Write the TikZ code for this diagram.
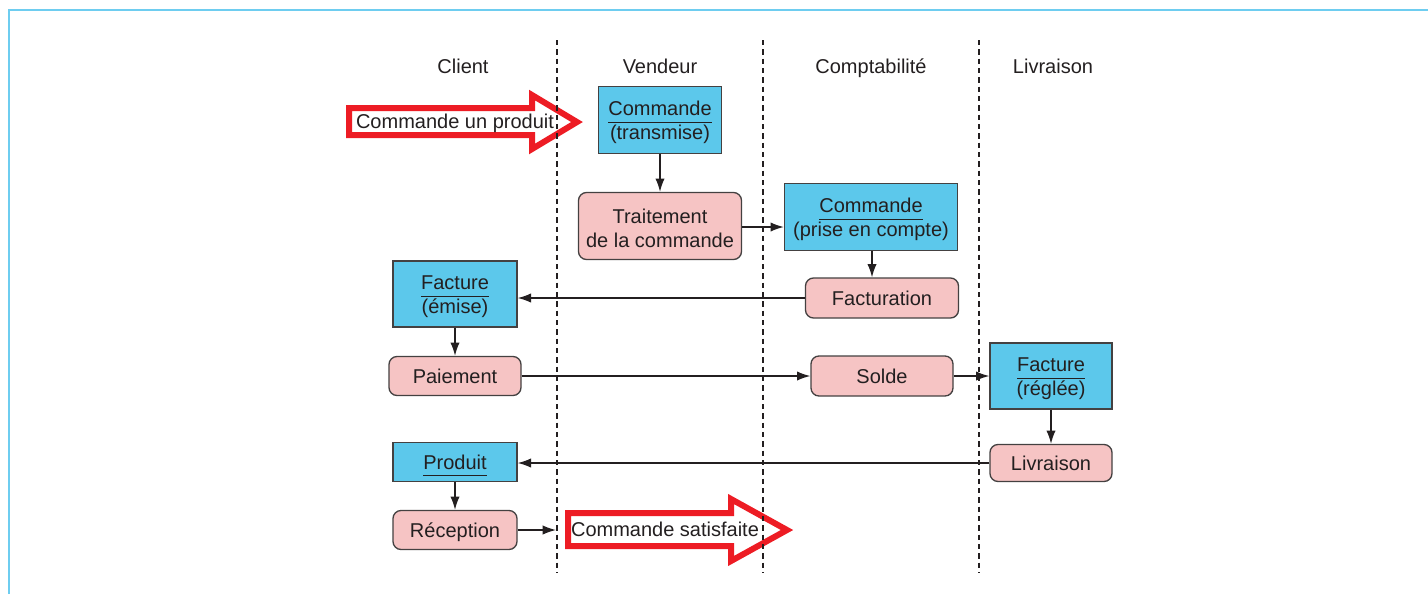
\documentclass[tikz,border=0pt]{standalone}
\usepackage{fontspec}
\setmainfont{Liberation Sans}
\usetikzlibrary{arrows.meta}
\definecolor{boxblue}{RGB}{92,200,235}
\definecolor{boxpink}{RGB}{246,196,196}
\definecolor{frameblue}{RGB}{110,205,240}
\definecolor{arrowred}{RGB}{237,28,36}
\definecolor{ink}{RGB}{35,31,32}
\newcommand\ttl[1]{\underline{#1\vphantom{(}}}
\newcommand\tp{\rule{0pt}{15pt}}
\begin{document}
\begin{tikzpicture}[x=0.75pt,y=-0.75pt,
  every node/.style={font=\fontsize{15}{18}\selectfont, text=ink},
  doc/.style={draw=ink!85, line width=1pt, fill=boxblue, align=center, inner sep=0pt},
  act/.style={draw=ink!85, line width=1pt, fill=boxpink, rounded corners=6pt, align=center, inner sep=0pt},
  one/.style={text height=10.7pt, text depth=0pt},
  two/.style={font=\fontsize{15}{18}\selectfont},
  flow/.style={draw=ink, line width=1pt, -{Latex[length=10pt,width=7pt]}},
  lane/.style={draw=ink, line width=0.9pt, dash pattern=on 4pt off 3pt},
  bigarrow/.style={draw=arrowred, line width=4.5pt, fill=white, line join=miter},
  plain/.style={inner sep=0pt, anchor=base}
]
\useasboundingbox (0,0) rectangle (1428,594);
\draw[frameblue, line width=1.5pt] (9,594) -- (9,10) -- (1428,10);

% lane labels
\node[plain] (lclient) at (463,73) {Client};
\node[plain] (lvendeur) at (660,73) {Vendeur};
\node[plain] (lcompta) at (871,73) {Comptabilité};
\node[plain] (llivr) at (1053,73) {Livraison};

% big red arrows
\draw[bigarrow] (349,108) -- (532,108) -- (532,95) -- (577,122) -- (532,149) -- (532,135) -- (349,135) -- cycle;
\node[plain] (cmdprod) at (455,128) {Commande un produit};
\draw[bigarrow] (568,513) -- (731,513) -- (731,499) -- (787,530) -- (731,561) -- (731,546) -- (568,546) -- cycle;
\node[plain] (cmdsat) at (665,536) {Commande satisfaite};

% boxes
\node[doc, two, minimum width=92.25pt, minimum height=50.25pt] (transmise) at (660,120) {\tp\ttl{Commande}\\(transmise)};
\node[act, two, minimum width=122.25pt, minimum height=50.25pt] (traitement) at (660,226) {\tp Traitement\\de la commande};
\node[doc, two, minimum width=129.75pt, minimum height=50.25pt] (prise) at (871,217) {\tp\ttl{Commande}\\(prise en compte)};
\node[act, one, minimum width=114.75pt, minimum height=30pt] (facturation) at (882,298) {Facturation};
\node[doc, two, minimum width=93pt, minimum height=49.5pt] (emise) at (455,294) {\tp\ttl{Facture}\\(émise)};
\node[act, one, minimum width=99pt, minimum height=29.25pt] (paiement) at (455,376) {Paiement};
\node[act, one, minimum width=106.5pt, minimum height=30pt] (solde) at (882,376) {Solde};
\node[doc, two, minimum width=91.5pt, minimum height=49.5pt] (reglee) at (1051,376) {\tp\ttl{Facture}\\(réglée)};
\node[act, one, minimum width=91.5pt, minimum height=27.75pt] (livraison) at (1051,463) {Livraison};
\node[doc, one, minimum width=93pt, minimum height=29.25pt] (produit) at (455,462) {\ttl{Produit}};
\node[act, one, minimum width=93pt, minimum height=29.25pt] (reception) at (455,530) {Réception};
\coordinate (recend) at (556,530);

% connectors
\draw[flow] (transmise) -- (traitement);
\draw[flow] (traitement.east |- 0,227) -- (prise.west |- 0,227);
\draw[flow] (prise.south -| 872,0) -- (facturation.north -| 872,0);
\draw[flow] (facturation) -- (emise.east |- facturation);
\draw[flow] (emise) -- (paiement);
\draw[flow] (paiement) -- (solde);
\draw[flow] (solde) -- (reglee);
\draw[flow] (reglee) -- (livraison);
\draw[flow] (livraison) -- (produit.east |- livraison);
\draw[flow] (produit) -- (reception);
\draw[flow] (reception) -- (recend);

% lanes
\draw[lane] (557,40) -- (557,573);
\draw[lane] (763,40) -- (763,573);
\draw[lane] (979,40) -- (979,573);
\end{tikzpicture}
\end{document}
